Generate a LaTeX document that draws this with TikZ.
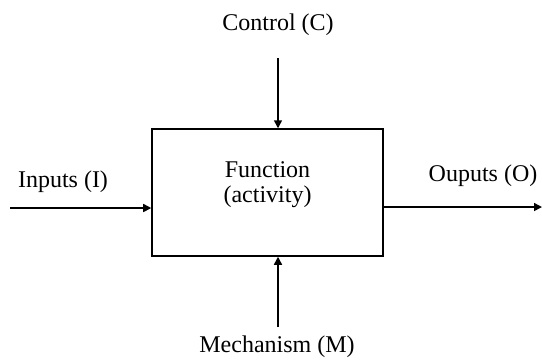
\documentclass[tikz,border=0pt]{standalone}
\usepackage{fontspec}
\setmainfont{Liberation Serif}
\usetikzlibrary{arrows.meta}

\begin{document}
\begin{tikzpicture}[x=0.5bp,y=-0.5bp,line width=0.75bp,
  every node/.style = {font=\fontsize{12bp}{12.5bp}\selectfont, align=center, inner sep=0pt},
  fnbox/.style = {draw, minimum width=115.5bp, minimum height=63.5bp},
  flow/.style = {-{Triangle[length=4bp,width=4bp]}}]
\useasboundingbox (0,0) rectangle (542,362);
\node[fnbox](fn) at (267.5,192.5) {};
\node(fnlbl) at (267.5,184.5) {Function\\(activity)};
\node(ctrl) at (278,25) {Control (C)};
\node(mech) at (277,347) {Mechanism (M)};
\node(inp) at (63,182) {Inputs (I)};
\node(outp) at (483,176) {Ouputs (O)};
\coordinate (ctop) at (278,58);
\coordinate (mbot) at (278,327);
\coordinate (ileft) at (10,208);
\coordinate (oright) at (542,207);
\draw[flow] (ctop) -- (ctop |- fn.north);
\draw[flow] (mbot) -- (mbot |- fn.south);
\draw[flow] (ileft) -- (ileft -| fn.west);
\draw[flow] (oright -| fn.east) -- (oright);
\end{tikzpicture}
\end{document}
